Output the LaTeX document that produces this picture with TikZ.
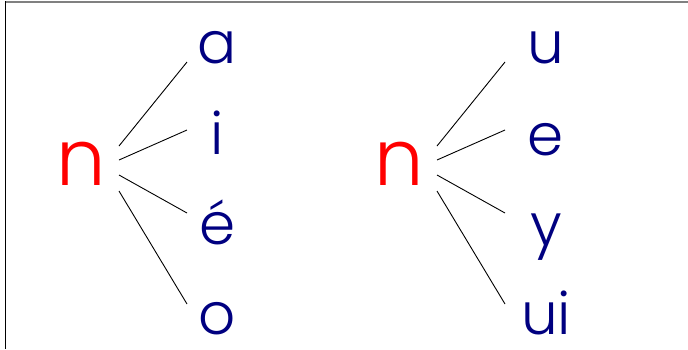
\documentclass[tikz,border=0pt]{standalone}
\usepackage{fontspec}
\setmainfont{Poppins}[UprightFont=* Light]
\definecolor{consred}{RGB}{255,0,0}
\definecolor{vowblue}{RGB}{0,0,128}
\definecolor{framegray}{RGB}{128,128,128}

\begin{document}
\begin{tikzpicture}[x=1pt, y=-1pt,
    cons/.style={font=\fontsize{78}{78}\selectfont, text=consred,
                 inner sep=0pt, anchor=base},
    vow/.style={font=\fontsize{58}{58}\selectfont, text=vowblue,
                inner sep=0pt, anchor=base, text depth=0pt},
    link/.style={draw=black, line width=0.9pt}]
  \useasboundingbox (0,0) rectangle (688,349);
  % frame, only top and left edges show
  \draw[framegray, line width=2pt] (5,1.5) -- (688,1.5);
  \draw[black, line width=1.8pt] (5.5,1) -- (5.5,349);
  \def\dx{318}
  \node[cons] (nL) at (81,185) {n};
  \node[cons] (nR) at ({81+\dx},185) {n};
  \foreach \i/\v/\yb in {1/a/63,2/i/154,3/é/244,4/o/334} {
    \node[vow] (vL\i) at (217.5,\yb) {\v};
  }
  \foreach \i/\v/\yb in {1/u/63,2/e/155,3/y/245,4/ui/334} {
    \node[vow] (vR\i) at (546,\yb) {\v};
  }
  % fan of links, n -> vowels
  \foreach \i/\ys/\ye in {1/146/62,2/160/130,3/175/213,4/191/304} {
    \coordinate (sL\i) at (119,\ys);  \coordinate (eL\i) at (187,\ye);
    \coordinate (sR\i) at ({119+\dx},\ys);  \coordinate (eR\i) at ({187+\dx},\ye);
    \draw[link] (sL\i) -- (eL\i);
    \draw[link] (sR\i) -- (eR\i);
  }
\end{tikzpicture}
\end{document}
